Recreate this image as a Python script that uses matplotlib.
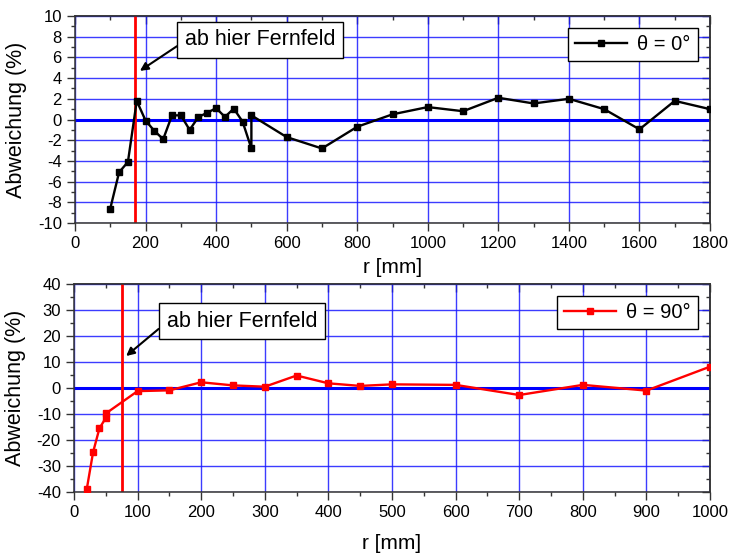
import matplotlib
matplotlib.use("Agg")
import matplotlib.pyplot as plt
from matplotlib.ticker import MultipleLocator

plt.rcParams['font.family'] = ['Liberation Sans', 'DejaVu Sans']
plt.rcParams['axes.unicode_minus'] = False

# Top chart: theta = 0 deg
r0 = [100, 125, 150, 175, 200, 225, 250, 275, 300, 325, 350, 375, 400, 425, 450, 475,
      500, 500, 600, 700, 800, 900, 1000, 1100, 1200, 1300, 1400, 1500, 1600, 1700, 1800]
dev0 = [-8.6, -5.1, -4.1, 1.8, -0.1, -1.1, -1.9, 0.4, 0.4, -1.0, 0.25, 0.65, 1.1, 0.25, 1.05, -0.2,
        -2.8, 0.4, -1.7, -2.8, -0.7, 0.5, 1.2, 0.8, 2.1, 1.55, 2.0, 1.0, -0.95, 1.8, 1.0]
farfield0 = 170

# Bottom chart: theta = 90 deg
r90 = [20, 30, 40, 50, 50, 100, 150, 200, 250, 300, 350, 400, 450, 500, 600, 700, 800, 900, 1000]
dev90 = [-39, -24.7, -15.5, -11.5, -9.8, -1.2, -0.9, 2.2, 1.0, 0.5, 4.8, 1.8, 0.8, 1.4, 1.2, -2.7, 1.2, -1.0, 8.2]
farfield90 = 75

annot_text = "ab hier Fernfeld"
legend0 = "θ = 0°"
legend90 = "θ = 90°"
xlabel = "r [mm]"
ylabel = "Abweichung (%)"

fig = plt.figure(figsize=(7.29, 5.58), dpi=100)
ax1 = fig.add_axes([75/729, 1-223/558, 635/729, 207/558])
ax2 = fig.add_axes([74/729, 1-492/558, 636/729, 208/558])

def style(ax, xmaj, xmin, ymaj, ymin, xlim, ylim, xpad):
    ax.set_xlim(*xlim)
    ax.set_ylim(*ylim)
    ax.xaxis.set_major_locator(MultipleLocator(xmaj))
    ax.xaxis.set_minor_locator(MultipleLocator(xmin))
    ax.yaxis.set_major_locator(MultipleLocator(ymaj))
    ax.yaxis.set_minor_locator(MultipleLocator(ymin))
    ax.grid(True, which='major', color='#1a1aff', lw=1.0, alpha=0.85)
    ax.set_axisbelow(True)
    ax.tick_params(which='both', direction='out', labelsize=12, color='#333333')
    ax.tick_params(which='major', length=6, width=1)
    ax.tick_params(which='minor', length=3, width=1)
    ax.axhline(0, color='#0000ff', lw=2.2, zorder=1.5)
    for s in ax.spines.values():
        s.set_linewidth(1.1)
        s.set_color('#333333')
    # opposite sides: ticks pointing inward, no labels
    top = ax.secondary_xaxis('top')
    top.xaxis.set_major_locator(MultipleLocator(xmaj))
    top.xaxis.set_minor_locator(MultipleLocator(xmin))
    top.tick_params(which='both', direction='in', labeltop=False, color='#333333')
    top.tick_params(which='major', length=6, width=1)
    top.tick_params(which='minor', length=3, width=1)
    top.spines['top'].set_linewidth(1.1)
    top.spines['top'].set_color('#333333')
    right = ax.secondary_yaxis('right')
    right.yaxis.set_major_locator(MultipleLocator(ymaj))
    right.yaxis.set_minor_locator(MultipleLocator(ymin))
    right.tick_params(which='both', direction='in', labelright=False, color='#333333')
    right.tick_params(which='major', length=6, width=1)
    right.tick_params(which='minor', length=3, width=1)
    right.spines['right'].set_linewidth(1.1)
    right.spines['right'].set_color('#333333')
    ax.set_xlabel(xlabel, fontsize=15, labelpad=xpad)
    ax.set_ylabel(ylabel, fontsize=15.5, labelpad=8)

style(ax1, 200, 100, 2, 1, (0, 1800), (-10, 10), 5)
style(ax2, 100, 50, 10, 5, (0, 1000), (-40, 40), 10)

ax1.plot(r0, dev0, color='black', lw=1.7, marker='s', ms=5, label=legend0, zorder=3)
ax1.axvline(farfield0, color='red', lw=2, zorder=2.5)
ax1.annotate(annot_text, xy=(184, 4.7), xytext=(525, 7.7), fontsize=15.5,
             ha='center', va='center',
             bbox=dict(boxstyle='square,pad=0.35', fc='white', ec='black', lw=1),
             arrowprops=dict(arrowstyle='-|>', color='black', lw=1.5, mutation_scale=12,
                             shrinkA=0, shrinkB=0, relpos=(0, 0.45)))
leg1 = ax1.legend(loc='upper right', fontsize=14.5, frameon=True, fancybox=False,
                  edgecolor='black', handlelength=2.6, borderaxespad=0.6,
                  handletextpad=0.5, borderpad=0.35, markerscale=0.8, framealpha=1)
leg1.get_frame().set_linewidth(1)

ax2.plot(r90, dev90, color='#ff0000', lw=1.7, marker='s', ms=5, label=legend90, zorder=3)
ax2.axvline(farfield90, color='red', lw=2, zorder=2.5)
ax2.annotate(annot_text, xy=(82, 12.3), xytext=(264, 25.7), fontsize=15.5,
             ha='center', va='center',
             bbox=dict(boxstyle='square,pad=0.35', fc='white', ec='black', lw=1),
             arrowprops=dict(arrowstyle='-|>', color='black', lw=1.5, mutation_scale=12,
                             shrinkA=0, shrinkB=0, relpos=(0, 0.45)))
leg2 = ax2.legend(loc='upper right', fontsize=14.5, frameon=True, fancybox=False,
                  edgecolor='black', handlelength=2.6, borderaxespad=0.6,
                  handletextpad=0.5, borderpad=0.35, markerscale=0.8, framealpha=1)
leg2.get_frame().set_linewidth(1)

fig.savefig("out.png", dpi=100)
